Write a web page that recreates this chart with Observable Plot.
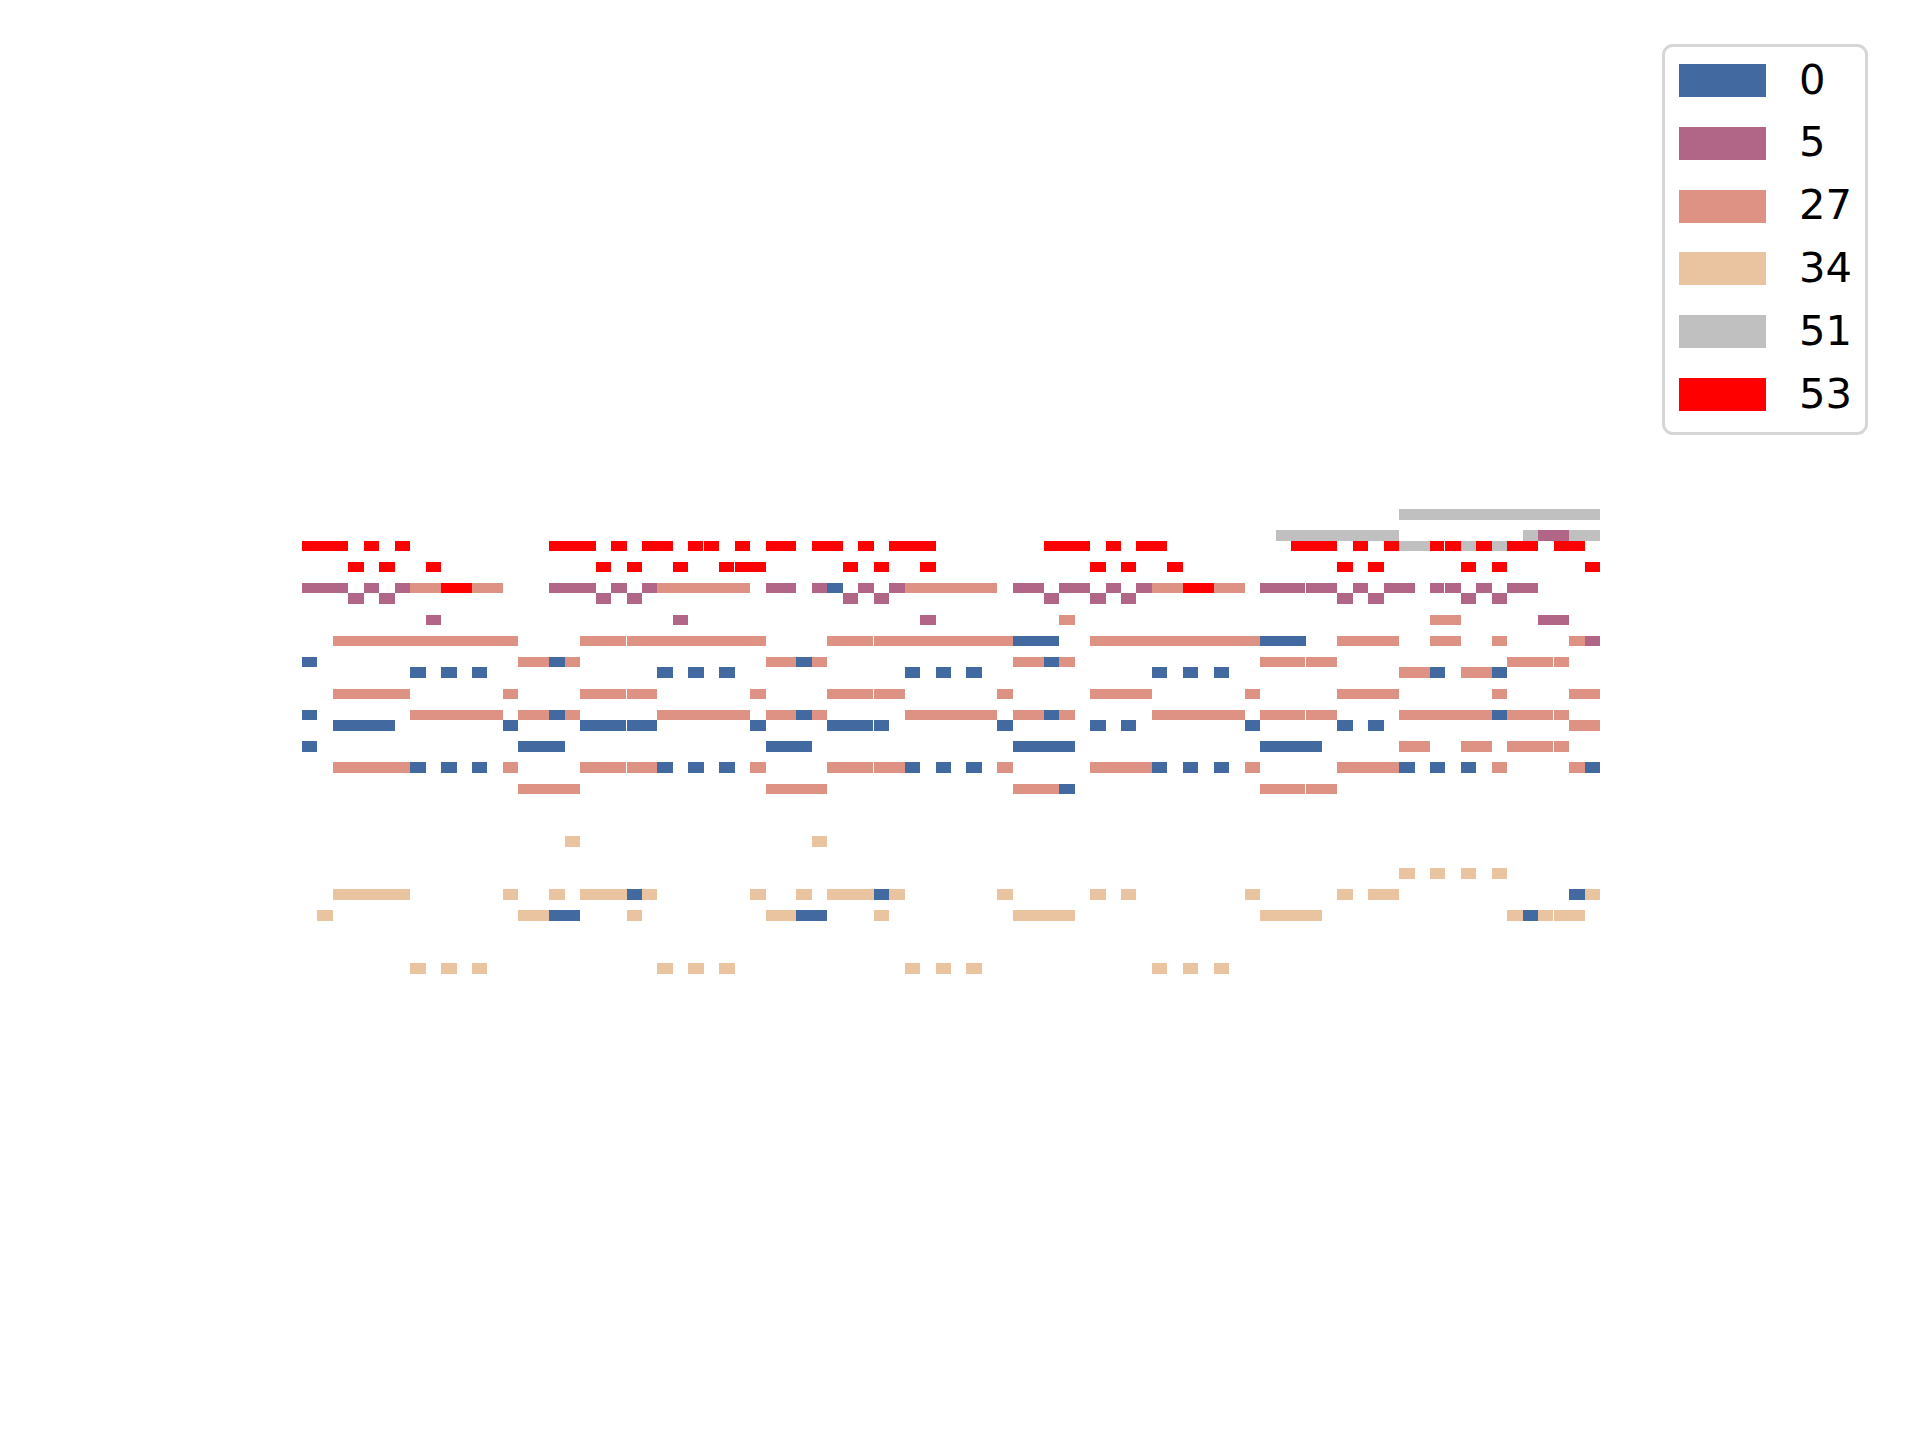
<!DOCTYPE html>
<html>
<head>
<meta charset="utf-8">
<script src="https://cdn.jsdelivr.net/npm/d3@7"></script>
<script src="https://cdn.jsdelivr.net/npm/@observablehq/plot@0.6"></script>
<style>
  html, body { margin: 0; padding: 0; background: #ffffff; }
  #wrap { position: relative; width: 1920px; height: 1440px; overflow: hidden; }
  #wrap svg { position: absolute; left: 0; top: 0; }
  .lgbox { position: absolute; left: 1662px; top: 44px; width: 200px; height: 385px;
           border: 3px solid #d6d6d6; border-radius: 11px; background: #fff; }
  .sw { position: absolute; left: 1679px; width: 87px; height: 33px; }
  .lb { position: absolute; left: 1799px; height: 33px; line-height: 33px;
        font-family: "DejaVu Sans", sans-serif; font-size: 41.7px; color: #000; white-space: nowrap; }
</style>
</head>
<body>
<div id="wrap"></div>
<script>
// Track names (legend labels) and colours
const trackNames = ["0", "5", "27", "34", "51", "53"];
const trackColors = ["#4269a0", "#b16688", "#de9283", "#eac3a0", "#c0c0c0", "#ff0000"];

// Notes per track: [start, end, pitch]
const track0 = [
  [34,35,77],
  [46,49,72],[62,65,72],
  [0,1,70],[16,17,70],[32,33,70],[48,49,70],
  [7,8,69],[9,10,69],[11,12,69],[23,24,69],[25,26,69],[27,28,69],[39,40,69],[41,42,69],[43,44,69],[55,56,69],[57,58,69],[59,60,69],[73,74,69],[77,78,69],
  [0,1,65],[16,17,65],[32,33,65],[48,49,65],[77,78,65],
  [2,6,64],[13,14,64],[18,21,64],[21,23,64],[29,30,64],[34,37,64],[37,38,64],[45,46,64],[51,52,64],[53,54,64],[61,62,64],[67,68,64],[69,70,64],
  [0,1,62],[14,17,62],[30,33,62],[46,50,62],[62,66,62],
  [7,8,60],[9,10,60],[11,12,60],[23,24,60],[25,26,60],[27,28,60],[39,40,60],[41,42,60],[43,44,60],[55,56,60],[57,58,60],[59,60,60],[71,72,60],[73,74,60],[75,76,60],[83,84,60],
  [49,50,58],
  [21,22,48],[37,38,48],[82,83,48],
  [16,18,46],[32,34,46],[79,80,46]
];
const track5 = [
  [80,82,82],
  [0,3,77],[4,5,77],[6,7,77],[16,19,77],[20,21,77],[22,23,77],[30,32,77],[33,34,77],[36,37,77],[38,39,77],[46,48,77],[49,51,77],[52,53,77],[54,55,77],[62,65,77],[65,67,77],[68,69,77],[70,72,77],[73,74,77],[74,75,77],[76,77,77],[78,80,77],
  [3,4,76],[5,6,76],[19,20,76],[21,22,76],[35,36,76],[37,38,76],[48,49,76],[51,52,76],[53,54,76],[67,68,76],[69,70,76],[75,76,76],[77,78,76],
  [8,9,74],[24,25,74],[40,41,74],[80,82,74],
  [83,84,72]
];
const track27 = [
  [7,9,77],[11,13,77],[23,29,77],[39,45,77],[55,57,77],[59,61,77],
  [49,50,74],[73,75,74],
  [2,14,72],[18,21,72],[21,30,72],[34,37,72],[37,46,72],[51,62,72],[67,71,72],[73,75,72],[77,78,72],[82,83,72],
  [14,16,70],[17,18,70],[30,32,70],[33,34,70],[46,48,70],[49,50,70],[62,65,70],[65,67,70],[78,81,70],[81,82,70],
  [71,73,69],[75,77,69],
  [2,7,67],[13,14,67],[18,21,67],[21,23,67],[29,30,67],[34,37,67],[37,39,67],[45,46,67],[51,55,67],[61,62,67],[67,71,67],[77,78,67],[82,84,67],
  [7,13,65],[14,16,65],[17,18,65],[23,29,65],[30,32,65],[33,34,65],[39,45,65],[46,48,65],[49,50,65],[55,61,65],[62,65,65],[65,67,65],[71,77,65],[78,81,65],[81,82,65],
  [82,84,64],
  [71,73,62],[75,77,62],[78,81,62],[81,82,62],
  [2,7,60],[13,14,60],[18,21,60],[21,23,60],[29,30,60],[34,37,60],[37,39,60],[45,46,60],[51,55,60],[61,62,60],[67,71,60],[77,78,60],[82,83,60],
  [14,18,58],[30,34,58],[46,49,58],[62,65,58],[65,67,58]
];
const track34 = [
  [17,18,53],[33,34,53],
  [71,72,50],[73,74,50],[75,76,50],[77,78,50],
  [2,7,48],[13,14,48],[16,17,48],[18,21,48],[22,23,48],[29,30,48],[32,33,48],[34,37,48],[38,39,48],[45,46,48],[51,52,48],[53,54,48],[61,62,48],[67,68,48],[69,71,48],[83,84,48],
  [1,2,46],[14,16,46],[21,22,46],[30,32,46],[37,38,46],[46,50,46],[62,66,46],[78,79,46],[80,81,46],[81,83,46],
  [7,8,41],[9,10,41],[11,12,41],[23,24,41],[25,26,41],[27,28,41],[39,40,41],[41,42,41],[43,44,41],[55,56,41],[57,58,41],[59,60,41]
];
const track51 = [
  [71,84,84],
  [63,71,82],[79,80,82],[82,84,82],
  [71,73,81],[75,76,81],[77,78,81]
];
const track53 = [
  [0,3,81],[4,5,81],[6,7,81],[16,19,81],[20,21,81],[22,24,81],[25,26,81],[26,27,81],[28,29,81],[30,32,81],[33,35,81],[36,37,81],[38,41,81],[48,51,81],[52,53,81],[54,56,81],[64,67,81],[68,69,81],[70,71,81],[73,74,81],[74,75,81],[76,77,81],[78,80,81],[81,83,81],
  [3,4,79],[5,6,79],[8,9,79],[19,20,79],[21,22,79],[24,25,79],[27,28,79],[28,30,79],[35,36,79],[37,38,79],[40,41,79],[51,52,79],[53,54,79],[56,57,79],[67,68,79],[69,70,79],[75,76,79],[77,78,79],[83,84,79],
  [9,11,77],[57,59,77]
];

const trackNotes = [track0, track5, track27, track34, track51, track53];

// Build a flat table of notes for Plot
const notes = [];
trackNotes.forEach((arr, i) => {
  arr.forEach(([start, end, pitch]) => notes.push({track: trackNames[i], start, end, pitch}));
});
// a note followed immediately by another note of the same track & pitch shows a thin gap
const key = d => d.track + "|" + d.pitch + "|" + d.start;
const starts = new Set(notes.map(key));
notes.forEach(d => { d.followed = starts.has(d.track + "|" + d.pitch + "|" + d.end); });

const rectOpts = {
  x1: "start", x2: "end",
  y1: d => d.pitch - 0.5, y2: d => d.pitch + 0.5,
  fill: "track", inset: 0, shapeRendering: "crispEdges"
};

const chart = Plot.plot({
  width: 1920,
  height: 1440,
  marginLeft: 302,
  marginRight: 320,
  marginTop: 509,
  marginBottom: 466.4,
  x: {domain: [0, 84], axis: null},
  y: {domain: [40.5, 84.5], axis: null},
  color: {domain: trackNames, range: trackColors},
  style: {background: "#ffffff"},
  marks: [
    Plot.rect(notes.filter(d => !d.followed), rectOpts),
    Plot.rect(notes.filter(d => d.followed), {...rectOpts, insetRight: 1})
  ]
});

const wrap = document.getElementById("wrap");
wrap.appendChild(chart);

// Legend (top right, boxed)
const box = document.createElement("div");
box.className = "lgbox";
wrap.appendChild(box);
trackNames.forEach((name, i) => {
  const top = 64 + i * 62.8;
  const sw = document.createElement("div");
  sw.className = "sw";
  sw.style.top = top + "px";
  sw.style.background = trackColors[i];
  wrap.appendChild(sw);
  const lb = document.createElement("div");
  lb.className = "lb";
  lb.style.top = (top - 1.5) + "px";
  lb.textContent = name;
  wrap.appendChild(lb);
});
</script>
</body>
</html>
